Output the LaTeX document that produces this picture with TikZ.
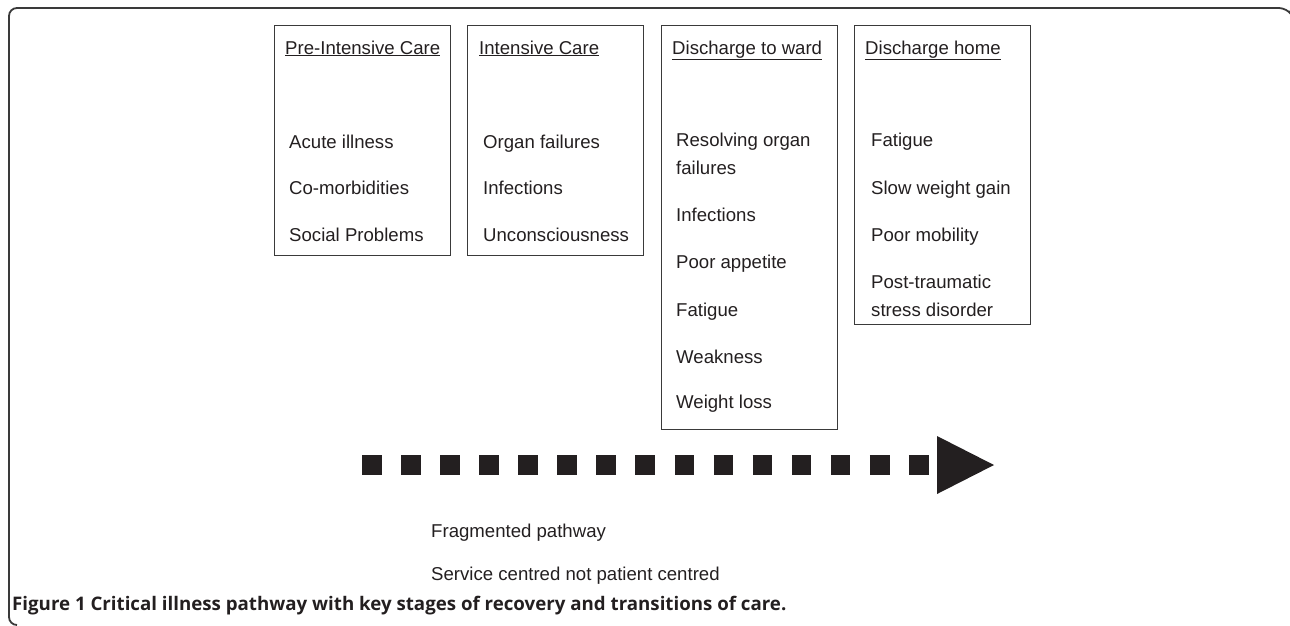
\documentclass[tikz,border=0pt]{standalone}
\usepackage{fontspec}
\setmainfont{Liberation Sans}
\newfontfamily\capfont{Open Sans}
\definecolor{ink}{HTML}{231F20}
\definecolor{frame}{HTML}{3A3A3A}
\begin{document}
\begin{tikzpicture}[x=1pt,y=-1pt,
  stagebox/.style={draw=frame, line width=1.4pt, rectangle, anchor=north west, inner sep=0pt},
  item/.style={anchor=base west, inner sep=0pt, text=ink, font=\fontsize{18.6}{22}\selectfont},
  title/.style={item},
  note/.style={item},
  capt/.style={anchor=base west, inner sep=0pt, text=ink, font=\capfont\bfseries\fontsize{18.7}{22}\selectfont}]
\useasboundingbox (0,0) rectangle (1290,625);
% outer frame
\draw[frame, line width=1.8pt, rounded corners=8pt] (17,625) -- (9,625) -- (9,8) -- (1287,8) -- (1289,11);
% boxes
\node[stagebox, minimum width=176pt, minimum height=230pt] (b1) at (274,25) {};
\node[stagebox, minimum width=176pt, minimum height=230pt] (b2) at (467,25) {};
\node[stagebox, minimum width=176pt, minimum height=404pt] (b3) at (661,25) {};
\node[stagebox, minimum width=176pt, minimum height=299pt] (b4) at (854,25) {};
% box 1
\node[title] (t1) at (285,54) {\underline{Pre-Intensive Care}};
\node[item] (a1) at (289,148) {Acute illness};
\node[item] (a2) at (289,194.5) {Co-morbidities};
\node[item] (a3) at (289,241.5) {Social Problems};
% box 2
\node[title] (t2) at (479,54) {\underline{Intensive Care}};
\node[item] (c1) at (483,148) {Organ failures};
\node[item] (c2) at (483,194.5) {Infections};
\node[item] (c3) at (483,241.5) {Unconsciousness};
% box 3
\node[title] (t3) at (672,54) {\underline{Discharge to ward}};
\node[item] (d1) at (676,146.5) {Resolving organ};
\node[item] (d1b) at (676,174.5) {failures};
\node[item] (d2) at (676,221.5) {Infections};
\node[item] (d3) at (676,268.5) {Poor appetite};
\node[item] (d4) at (676,316) {Fatigue};
\node[item] (d5) at (676,363) {Weakness};
\node[item] (d6) at (676,408) {Weight loss};
% box 4
\node[title] (t4) at (865,54) {\underline{Discharge home}};
\node[item] (h1) at (871,146.5) {Fatigue};
\node[item] (h2) at (871,194.5) {Slow weight gain};
\node[item] (h3) at (871,241.5) {Poor mobility};
\node[item] (h4) at (871,288.5) {Post-traumatic};
\node[item] (h4b) at (871,316.5) {stress disorder};
% arrow
\coordinate (as) at (362,465);
\coordinate (ae) at (929,465);
\draw[ink, line width=19.5pt, dash pattern=on 19.6pt off 19.47pt] (as) -- (ae);
\coordinate (hd0) at (937,436);
\coordinate (htip) at (994,465);
\coordinate (hd1) at (937,494);
\fill[ink] (hd0) -- (htip) -- (hd1) -- cycle;
% notes
\node[note] (n1) at (431,537) {Fragmented pathway};
\node[note] (n2) at (431,580) {Service centred not patient centred};
% caption
\node[capt] (cap) at (12,610) {Figure 1 Critical illness pathway with key stages of recovery and transitions of care.};
\end{tikzpicture}
\end{document}
